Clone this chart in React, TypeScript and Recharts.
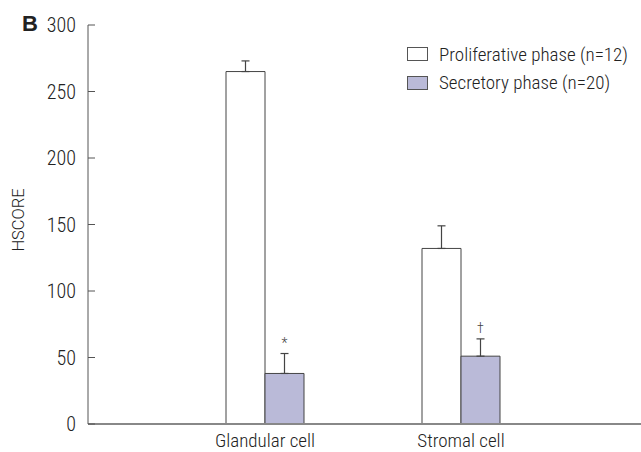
import React from 'react';
import { BarChart, Bar, XAxis, YAxis, ErrorBar, LabelList } from 'recharts';

const categories = ['Glandular cell', 'Stromal cell'];
const proliferative = [265, 132];
const proliferativeErr = [8, 17];
const secretory = [38, 51];
const secretoryErr = [15, 13];
const marks = ['*', '†'];
const yTicks = [0, 50, 100, 150, 200, 250, 300];
const seriesNames = ['Proliferative phase (n=12)', 'Secretory phase (n=20)'];
const seriesFills = ['#ffffff', '#babad8'];

const data = categories.map((c, i) => ({
  name: c,
  prolif: proliferative[i],
  prolifErr: [0, proliferativeErr[i]],
  secr: secretory[i],
  secrErr: [0, secretoryErr[i]],
  secrRawErr: secretoryErr[i],
  mark: marks[i],
}));

const FONT = 'Roboto, "Liberation Sans", sans-serif';
const narrow: React.CSSProperties = { fontStretch: '75%', fontWeight: 300 };

const renderMark = (props: any) => {
  const { x, y, width, height, index } = props;
  const d = data[index];
  const pxPerUnit = height / d.secr;
  const top = y - d.secrRawErr * pxPerUnit;
  return (
    <text x={x + width / 2} y={top - 6} textAnchor="middle" fontSize={14} fill="#444" fontFamily={FONT} style={narrow}>
      {d.mark}
    </text>
  );
};

export default function App() {
  return (
    <div style={{ position: 'absolute', left: 0, top: 0, width: 641, height: 452, background: '#fff' }}>
      <div style={{ position: 'absolute', left: 22, top: 11, fontFamily: '"Liberation Sans", Arial, sans-serif', fontWeight: 'bold', fontSize: 22, color: '#222' }}>B</div>
      <div style={{ position: 'absolute', left: 407, top: 40, fontFamily: FONT, fontStretch: '87%', fontWeight: 300, fontSize: 19, color: '#222', zIndex: 2 }}>
        {seriesNames.map((n, i) => (
          <div key={n} style={{ display: 'flex', alignItems: 'center', height: 28.5, whiteSpace: 'nowrap' }}>
            <span style={{ display: 'inline-block', width: 19, height: 12, border: '1px solid #555', background: seriesFills[i], marginRight: 11 }} />
            <span>{n}</span>
          </div>
        ))}
      </div>
      <BarChart width={641} height={452} data={data} margin={{ top: 25, right: 0, left: 0, bottom: 0 }} barGap={0} barSize={39}>
        <XAxis
          dataKey="name"
          padding={{ left: 79, right: 82 }}
          interval={0}
          tickLine={false}
          axisLine={{ stroke: '#888', strokeWidth: 2 }}
          height={28}
          tick={{ fontFamily: FONT, fontSize: 19, fill: '#222', style: narrow }}
          tickMargin={4}
        />
        <YAxis
          domain={[0, 300]}
          ticks={yTicks}
          width={88}
          tickSize={-7}
          tickMargin={19}
          axisLine={{ stroke: '#555', strokeWidth: 1 }}
          tickLine={{ stroke: '#555', strokeWidth: 1 }}
          tick={{ fontFamily: FONT, fontSize: 20, fill: '#222', style: narrow }}
          label={{
            content: () => (
              <text x={24} y={220} transform="rotate(-90 24 220)" textAnchor="middle" fontFamily={FONT} fontSize={16.5} fill="#222" style={{ fontStretch: '90%', fontWeight: 300 }}>
                HSCORE
              </text>
            ),
          }}
        />
        <Bar dataKey="prolif" name={seriesNames[0]} fill={seriesFills[0]} stroke="#444" strokeWidth={1} isAnimationActive={false}>
          <ErrorBar dataKey="prolifErr" width={4} stroke="#444" strokeWidth={1.2} direction="y" />
        </Bar>
        <Bar dataKey="secr" name={seriesNames[1]} fill={seriesFills[1]} stroke="#444" strokeWidth={1} isAnimationActive={false}>
          <ErrorBar dataKey="secrErr" width={4} stroke="#444" strokeWidth={1.2} direction="y" />
          <LabelList dataKey="secr" content={renderMark} />
        </Bar>
      </BarChart>
    </div>
  );
}
